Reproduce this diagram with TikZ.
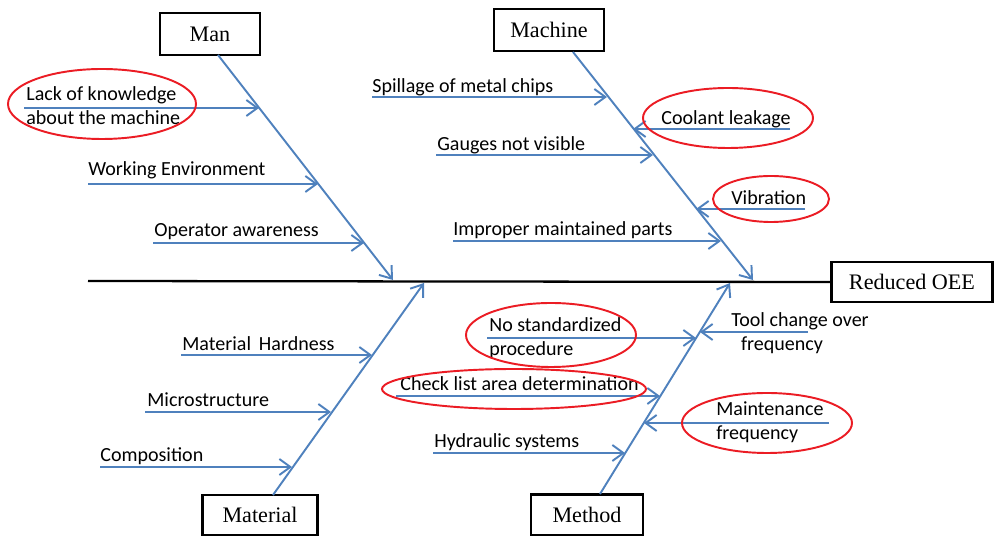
\documentclass[tikz,border=0pt]{standalone}
\usepackage{fontspec}
\setmainfont{Liberation Serif}
\newfontfamily\causefont{Carlito}
\usepackage{tikz}
\usetikzlibrary{arrows.meta, positioning, calc}
\definecolor{cBone}{RGB}{79,129,189}
\definecolor{cMark}{RGB}{235,28,36}
\tikzset{
	catbox/.style={rectangle, draw=black, line width=1.2pt, fill=white, minimum height=0.84cm, text centered, font=\fontsize{12.6}{14}\selectfont},
	spine/.style ={line width=1.3pt, draw=black},
	bone/.style  ={draw=cBone, line width=1.1pt, -{Straight Barb[length=2.2mm, width=3.2mm]}},
	cause/.style ={anchor=west, inner sep=0pt, align=left, font=\causefont\fontsize{11.4}{13.6}\selectfont},
	hilite/.style={draw=cMark, line width=1.1pt},
}

\begin{document}
\begin{tikzpicture}[x=0.02cm, y=-0.02cm]
	\useasboundingbox (0,0) rectangle (995,536);
	% category boxes and effect
	\node[catbox, minimum width=2.0cm] (man) at (210,34) {Man};
	\node[catbox, minimum width=2.2cm] (machine) at (549,30) {Machine};
	\node[catbox, minimum width=2.3cm, minimum height=0.8cm] (material) at (260,515) {Material};
	\node[catbox, minimum width=2.24cm, minimum height=0.82cm] (method) at (587,515) {Method};
	\node[catbox, minimum width=3.22cm, minimum height=0.8cm] (oee) at (912,282) {Reduced OEE};
	% spine
	\coordinate (tail) at (88,281);
	\draw[spine] (tail) -- (oee.west);
	% main bones
	\coordinate (manS) at (218,55);      \coordinate (manT) at (393,280);
	\coordinate (machS) at (573,52);     \coordinate (machT) at (753,280);
	\coordinate (matS) at (273,495);     \coordinate (matT) at (424,283);
	\coordinate (methS) at (600,494);    \coordinate (methT) at (730,283);
	\draw[bone] (manS) -- (manT);
	\draw[bone] (machS) -- (machT);
	\draw[bone] (matS) -- (matT);
	\draw[bone] (methS) -- (methT);
	% man causes
	\node[cause] (knowledge) at (26,106) {Lack of knowledge\\about the machine};
	\node[cause] (environ) at (88,170.5) {Working Environment};
	\node[cause] (operator) at (154,231.5) {Operator awareness};
	\coordinate (k0) at (24,108);   \coordinate (k1) at (259,108);
	\coordinate (e0) at (88,184);   \coordinate (e1) at (318,184);
	\coordinate (o0) at (153,243);  \coordinate (o1) at (364,243);
	\draw[bone] (k0) -- (k1);
	\draw[bone] (e0) -- (e1);
	\draw[bone] (o0) -- (o1);
	\draw[hilite] (102,104) ellipse (94 and 35);
	% machine causes
	\node[cause] (spillage) at (372,87.5) {Spillage of metal chips};
	\node[cause] (coolant) at (661,119) {Coolant leakage};
	\node[cause] (gauges) at (437,145.5) {Gauges not visible};
	\node[cause] (vibration) at (731,198) {Vibration};
	\node[cause] (improper) at (453,230.5) {Improper maintained parts};
	\coordinate (s0) at (372,97);   \coordinate (s1) at (607,97);
	\coordinate (c0) at (790,129);  \coordinate (c1) at (633,129);
	\coordinate (g0) at (436,155);  \coordinate (g1) at (653,155);
	\coordinate (v0) at (805,209);  \coordinate (v1) at (696,209);
	\coordinate (i0) at (453,241);  \coordinate (i1) at (721,241);
	\draw[bone] (s0) -- (s1);
	\draw[bone] (c0) -- (c1);
	\draw[bone] (g0) -- (g1);
	\draw[bone] (v0) -- (v1);
	\draw[bone] (i0) -- (i1);
	\draw[hilite] (728,118) ellipse (85 and 30);
	\draw[hilite] (771,199) ellipse (58 and 23);
	% material causes
	\node[cause] (hardness) at (182,343.5) {Material\, Hardness};
	\node[cause] (micro) at (147,399.5) {Microstructure};
	\node[cause] (compo) at (100,456) {Composition};
	\coordinate (h0) at (181,355);  \coordinate (h1) at (372,355);
	\coordinate (m0) at (145,412);  \coordinate (m1) at (331,412);
	\coordinate (p0) at (100,467);  \coordinate (p1) at (292,467);
	\draw[bone] (h0) -- (h1);
	\draw[bone] (m0) -- (m1);
	\draw[bone] (p0) -- (p1);
	% method causes
	\node[cause] (nostd) at (489,338) {No standardized\\procedure};
	\node[cause] (toolchg) at (731,333) {Tool change over\\\hspace*{5.5pt}frequency};
	\node[cause] (checklist) at (400,384) {Check list area determination};
	\node[cause] (mainten) at (716,422) {Maintenance\\frequency};
	\node[cause] (hydraulic) at (434,442.5) {Hydraulic systems};
	\coordinate (n0) at (487,338);  \coordinate (n1) at (696,338);
	\coordinate (t0) at (808,332);  \coordinate (t1) at (700,332);
	\coordinate (l0) at (396,396);  \coordinate (l1) at (660,396);
	\coordinate (a0) at (829,423);  \coordinate (a1) at (644,423);
	\coordinate (y0) at (433,453);  \coordinate (y1) at (625,453);
	\draw[bone] (n0) -- (n1);
	\draw[bone] (t0) -- (t1);
	\draw[bone] (l0) -- (l1);
	\draw[bone] (a0) -- (a1);
	\draw[bone] (y0) -- (y1);
	\draw[hilite] (551,335) ellipse (85 and 32);
	\draw[hilite] (514,389) ellipse (132 and 20);
	\draw[hilite] (767,423) ellipse (85 and 30);
\end{tikzpicture}
\end{document}
